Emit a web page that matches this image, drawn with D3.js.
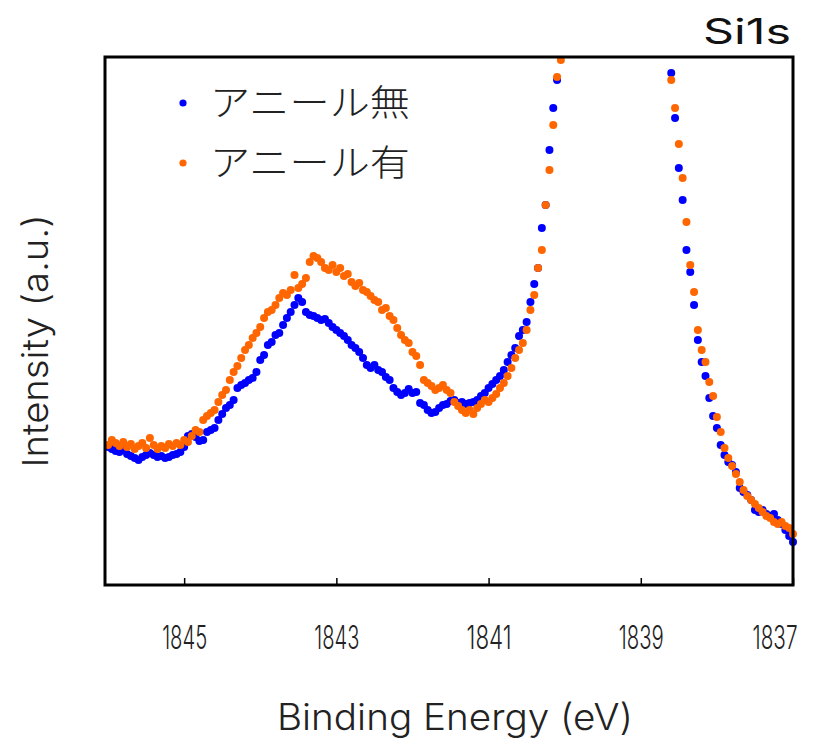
<!DOCTYPE html>
<html>
<head>
<meta charset="utf-8">
<script src="https://cdn.jsdelivr.net/npm/d3@7"></script>
<style>
body { margin: 0; background: #fff; }
svg { display: block; font-family: "Noto Sans CJK JP", "Noto Sans", sans-serif; }
.latin { font-family: Inter, "Open Sans", "Noto Sans", sans-serif; }
</style>
</head>
<body>
<svg width="830" height="740"></svg>
<script>
// Si1s spectra, energy grid from the instrument: start + step
const energyStart = 1846.0;
const energyStep = 0.05;
const seriesNames = ['アニール無', 'アニール有'];
const seriesColors = ['#0000ff', '#ff6600'];
const xTicks = [1845, 1843, 1841, 1839, 1837];

// intensity (a.u.), null = off scale (main peak)
const noAnneal = [
  138,136,134,133,135,131,129,127,125,128,
  130,132,130,128,129,127,128,130,131,133,
  138,149,151,148,144,145,153,155,157,165,
  171,177,180,185,197,200,202,205,207,213,
  225,230,240,243,250,252,260,267,273,280,
  287,283,273,270,269,267,265,266,262,258,
  255,252,249,245,240,237,233,227,220,217,
  220,215,213,208,205,197,193,190,192,196,
  192,193,182,180,175,172,173,177,180,181,
  184,185,182,183,181,182,183,185,189,192,
  197,201,205,209,215,223,230,237,249,255,
  263,283,301,317,357,380,435,477,505,null,
  null,null,null,null,null,null,null,null,null,null,
  null,null,null,null,null,null,null,null,null,null,
  null,null,null,null,null,null,null,null,512,467,
  417,385,335,313,280,245,223,209,187,169,
  157,140,130,123,120,113,97,93,90,85,
  75,73,75,71,69,71,65,61,55,49,
  43
];
const annealed = [
  140,145,142,139,143,138,141,136,139,142,
  137,147,140,136,139,137,141,139,142,140,
  145,143,149,155,153,165,169,172,175,183,
  190,195,205,213,219,227,235,240,247,252,
  258,267,273,275,280,287,292,290,295,310,
  297,301,307,323,329,327,323,317,315,320,
  313,317,309,311,303,299,302,295,293,289,
  285,283,275,277,269,265,257,250,245,242,
  233,229,220,205,202,199,195,197,200,195,
  192,183,179,175,172,175,171,177,181,185,
  183,187,191,197,202,209,217,227,235,242,
  255,275,290,317,335,380,415,460,508,525,
  null,null,null,null,null,null,null,null,null,null,
  null,null,null,null,null,null,null,null,null,null,
  null,null,null,null,null,null,null,null,505,477,
  441,407,363,320,293,255,235,223,203,189,
  168,153,137,127,119,111,103,95,89,85,
  81,77,73,69,67,63,61,63,59,57,
  51
];

const svg = d3.select('svg');
const margin = {top: 57, right: 37, bottom: 155, left: 105};
const width = +svg.attr('width') - margin.left - margin.right;
const height = +svg.attr('height') - margin.top - margin.bottom;

const x = d3.scaleLinear()
    .domain([1846.04, 1837])
    .range([0, width]);
const y = d3.scaleLinear()
    .domain([0, 528])
    .range([height, 0]);

const g = svg.append('g')
    .attr('transform', `translate(${margin.left},${margin.top})`);

//points, blue first so orange sits on top
[noAnneal, annealed].forEach((values, k) => {
  const pts = values
      .map((v, i) => ({e: energyStart - i * energyStep, v}))
      .filter(d => d.v !== null);
  g.append('g')
      .selectAll('circle')
      .data(pts)
      .join('circle')
      .attr('cx', d => x(d.e))
      .attr('cy', d => y(d.v))
      .attr('r', 4)
      .attr('fill', seriesColors[k]);
});

//x axis, ticks pointing inward
const xAxis = g.append('g')
    .attr('transform', `translate(0,${height})`)
    .call(d3.axisBottom(x).tickValues(xTicks).tickSize(-7).tickPadding(41).tickFormat(d3.format('d')));
xAxis.select('.domain').remove();
xAxis.selectAll('line').attr('stroke', '#000').attr('stroke-width', 1.5);
xAxis.selectAll('text')
    .attr('class', 'latin')
    .attr('fill', '#222')
    .attr('textLength', 45)
    .attr('lengthAdjust', 'spacingAndGlyphs')
    .style('font-size', '32px')
    .style('font-weight', 300);
//last label kept inside the window
xAxis.selectAll('.tick')
    .filter(d => d === 1837)
    .select('text')
    .attr('text-anchor', 'end')
    .attr('x', 4);

//frame
g.append('rect')
    .attr('width', width)
    .attr('height', height)
    .attr('fill', 'none')
    .attr('stroke', '#000')
    .attr('stroke-width', 3);

//legend
const legend = g.append('g')
    .attr('transform', 'translate(78,46)');
seriesNames.forEach((name, k) => {
  const row = legend.append('g').attr('transform', `translate(0,${k * 60})`);
  row.append('circle').attr('r', 3.6).attr('fill', seriesColors[k]);
  row.append('text')
      .attr('x', 27)
      .attr('y', 13)
      .attr('textLength', 200)
      .attr('lengthAdjust', 'spacingAndGlyphs')
      .style('font-size', '36px')
      .style('font-weight', 300)
      .attr('fill', '#222')
      .text(name);
});

//titles
svg.append('text')
    .attr('class', 'latin')
    .attr('x', 455)
    .attr('y', 730)
    .attr('text-anchor', 'middle')
    .attr('textLength', 356)
    .attr('lengthAdjust', 'spacingAndGlyphs')
    .style('font-size', '37px')
    .style('font-weight', 300)
    .attr('fill', '#222')
    .text('Binding Energy (eV)');

svg.append('text')
    .attr('class', 'latin')
    .attr('transform', 'translate(48,341) rotate(-90)')
    .attr('text-anchor', 'middle')
    .attr('textLength', 253)
    .attr('lengthAdjust', 'spacingAndGlyphs')
    .style('font-size', '36px')
    .style('font-weight', 300)
    .attr('fill', '#222')
    .text('Intensity (a.u.)');

svg.append('text')
    .attr('class', 'latin')
    .attr('x', 791)
    .attr('y', 44)
    .attr('text-anchor', 'end')
    .attr('textLength', 88)
    .attr('lengthAdjust', 'spacingAndGlyphs')
    .style('font-size', '35px')
    .style('font-weight', 400)
    .attr('fill', '#111')
    .text('Si1s');
</script>
</body>
</html>
